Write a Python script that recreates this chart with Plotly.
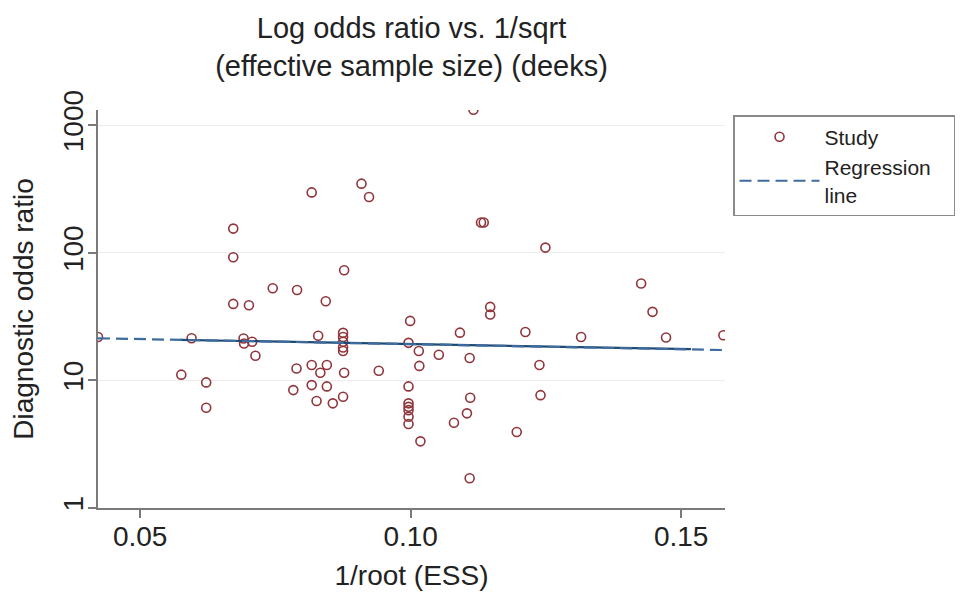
import plotly.graph_objects as go

# study points (1/root(ESS), diagnostic odds ratio)
ess_inv = [
    0.0422, 0.0576, 0.0595, 0.0622, 0.0622, 0.0672, 0.0672, 0.0672, 0.0701,
    0.0691, 0.0692, 0.0707, 0.0713, 0.0745, 0.0790, 0.0783, 0.0789, 0.0817,
    0.0817, 0.0817, 0.0826, 0.0829, 0.0833, 0.0843, 0.0845, 0.0845, 0.0856,
    0.0877, 0.0875, 0.0875, 0.0875, 0.0875, 0.0875, 0.0877, 0.0875, 0.0909,
    0.0923, 0.0941, 0.0999, 0.0996, 0.0996, 0.0996, 0.0996, 0.0996, 0.0996,
    0.0996, 0.1015, 0.1016, 0.1018, 0.1052, 0.1080, 0.1091, 0.1109, 0.1104,
    0.1110, 0.1109, 0.1116, 0.1130, 0.1135, 0.1147, 0.1147, 0.1212, 0.1196,
    0.1238, 0.1240, 0.1249, 0.1315, 0.1426, 0.1447, 0.1472, 0.1578,
]
dor = [
    21.9, 11.1, 21.4, 9.65, 6.10, 155, 92.4, 39.8, 38.9,
    21.3, 19.5, 20.1, 15.6, 52.8, 51.2, 8.40, 12.4, 298,
    13.2, 9.19, 6.89, 22.4, 11.5, 41.8, 13.2, 8.98, 6.61,
    73.1, 23.6, 21.9, 20.1, 18.1, 17.0, 11.5, 7.44, 349,
    274, 11.9, 29.3, 19.7, 8.98, 6.61, 6.21, 5.85, 5.19,
    4.55, 17.0, 13.0, 3.33, 15.9, 4.66, 23.7, 15.0, 5.52,
    7.31, 1.71, 1325, 173, 173, 37.7, 32.9, 24.0, 3.94,
    13.2, 7.67, 110, 21.9, 57.5, 34.5, 21.7, 22.6,
]

# regression line ends and the solid overlay segment
reg_x = [0.0422, 0.1580]
reg_y = [21.4, 17.3]
reg_solid_x = [0.0573, 0.1518]
reg_solid_y = [20.8, 17.6]

x_ticks = [0.05, 0.10, 0.15]
x_labels = ["0.05", "0.10", "0.15"]
y_ticks = [1, 10, 100, 1000]
y_labels = ["1", "10", "100", "1000"]

FONT = "Liberation Sans, Arial, sans-serif"
MAROON = "#90353b"
AXIS = "#7a7a7a"
# invisible filler so the legend box is as wide as the reference one
PAD = '<span style="color:rgba(0,0,0,0)">nt</span>'

fig = go.Figure()

fig.add_trace(go.Scatter(
    x=ess_inv, y=dor, mode="markers", name="Study",
    marker=dict(symbol="circle-open", size=9, color=MAROON,
                line=dict(width=1.6, color=MAROON)),
))
fig.add_trace(go.Scatter(
    x=reg_solid_x, y=reg_solid_y, mode="lines", showlegend=False,
    line=dict(color="#1f4a72", width=2.2), hoverinfo="skip",
))
fig.add_trace(go.Scatter(
    x=reg_x, y=reg_y, mode="lines", name="Regression" + PAD + "<br>line",
    line=dict(color="#3f6c9f", width=2.2, dash="12px,6px"),
))

# the page body adds an 8px offset, so margins are set 8px short
fig.update_layout(
    width=969, height=607,
    margin=dict(l=90, r=252, t=102, b=107),
    paper_bgcolor="white", plot_bgcolor="white",
    font=dict(family=FONT, color="#222222"),
    title=dict(
        text="Log odds ratio vs. 1/sqrt<br>(effective sample size) (deeks)",
        x=0.5, xref="paper", xanchor="center",
        y=0.95, yref="container", yanchor="top",
        font=dict(size=29, color="#222222"),
    ),
    legend=dict(
        x=1.0128, xanchor="left", y=0.987, yanchor="top",
        bordercolor="#8a8a8a", borderwidth=1.5,
        font=dict(size=21, color="#222222"),
        itemwidth=80, tracegroupgap=0,
    ),
)

fig.update_xaxes(
    range=[0.0422, 0.1581],
    tickvals=x_ticks, ticktext=x_labels,
    tickfont=dict(size=28),
    ticks="outside", ticklen=8, tickcolor=AXIS, tickwidth=1.5,
    ticklabelstandoff=-6,
    showline=True, linecolor=AXIS, linewidth=2,
    showgrid=False, zeroline=False,
    title=dict(text="1/root (ESS)", font=dict(size=28), standoff=15),
)
fig.update_yaxes(
    type="log", range=[0, 3.12],
    tickvals=y_ticks, ticktext=y_labels, tickangle=-90,
    tickfont=dict(size=28),
    ticks="outside", ticklen=8, tickcolor=AXIS, tickwidth=1.5,
    ticklabelstandoff=-6,
    showline=True, linecolor=AXIS, linewidth=2,
    showgrid=True, gridcolor="#ececec", gridwidth=1,
    zeroline=False,
    title=dict(text="Diagnostic odds ratio", font=dict(size=28), standoff=18),
)

fig.write_html("out.html")
